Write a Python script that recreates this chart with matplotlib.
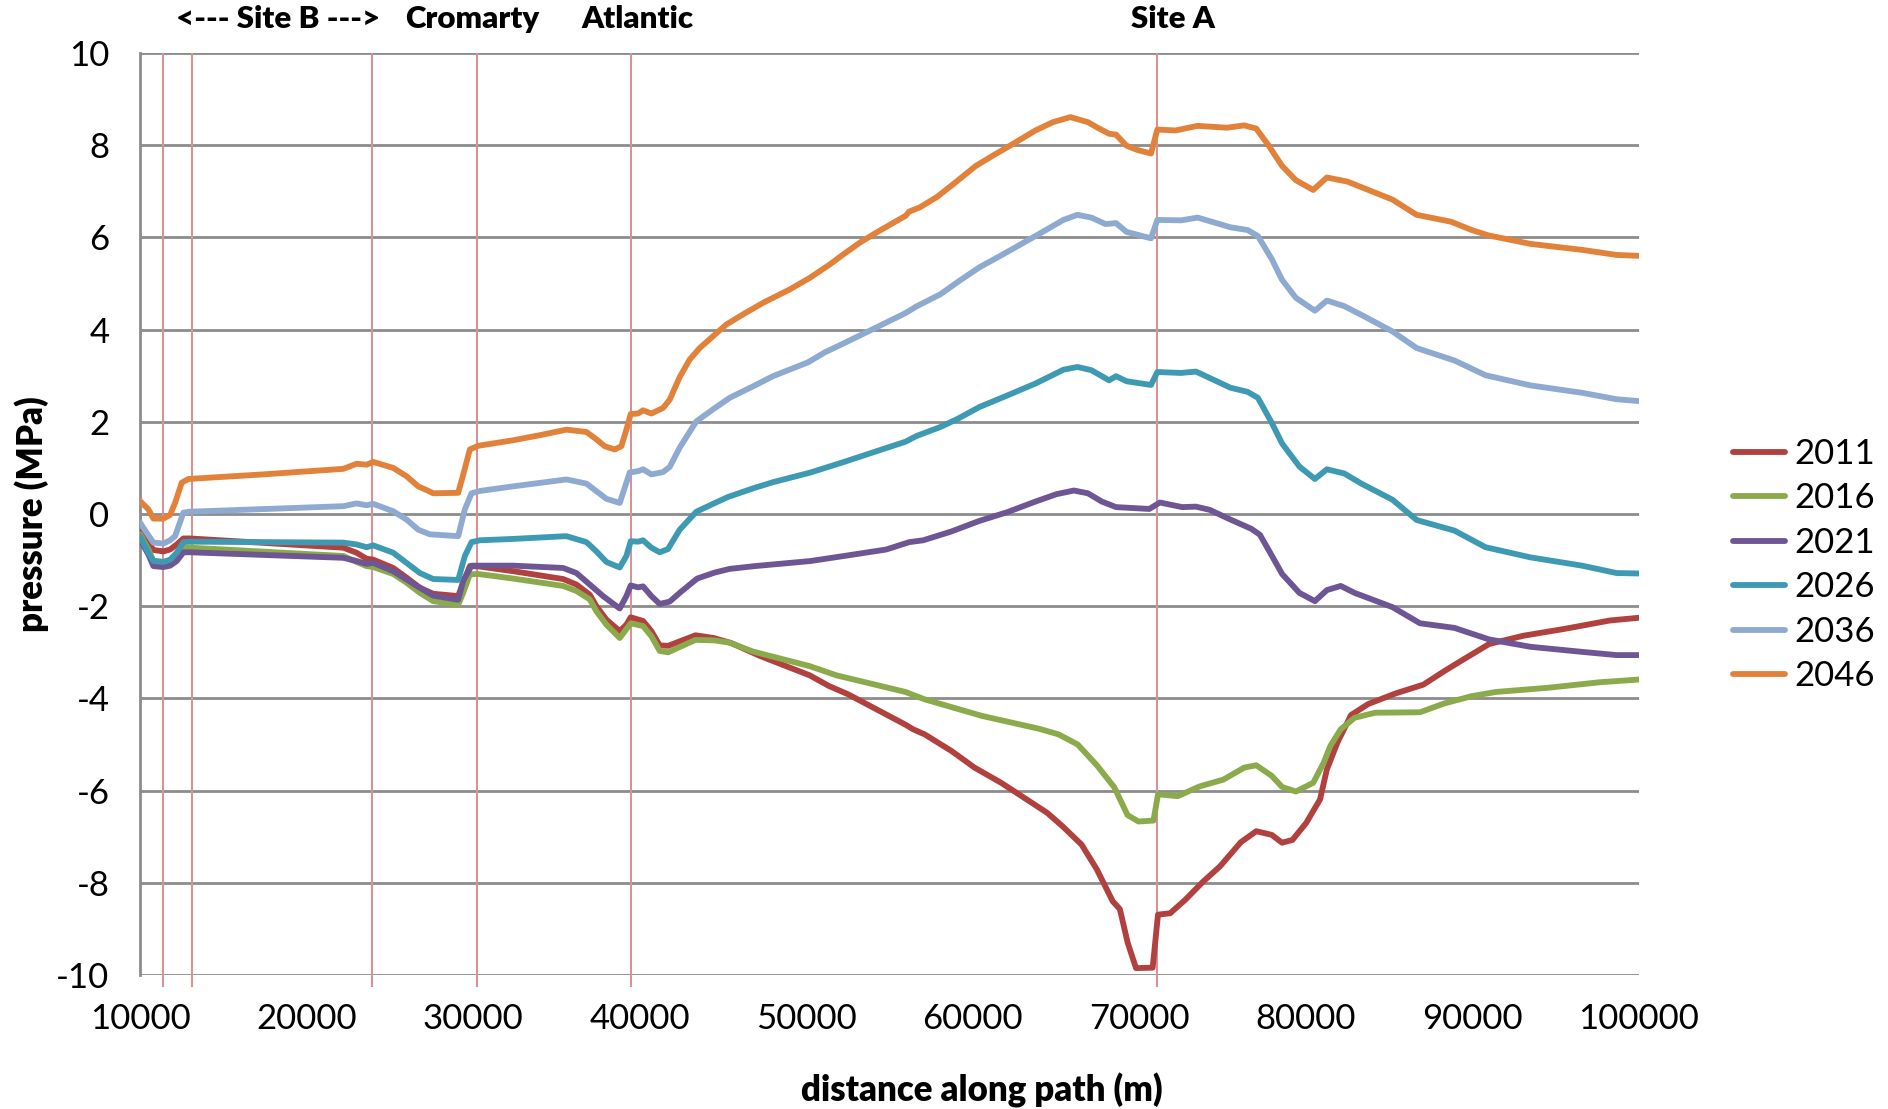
import numpy as np
import matplotlib
matplotlib.use("Agg")
import matplotlib.pyplot as plt

plt.rcParams['font.family'] = ['Lato', 'DejaVu Sans']
plt.rcParams['axes.unicode_minus'] = False

# pressure along the path, per year (distance in m, pressure in MPa)
x_2011 = [10000, 10500, 10800, 11400, 11800, 12200, 12600, 13000, 22200, 23000, 23600, 24000,
          25200, 26000, 26800, 27600, 29100, 29400, 29800, 30400, 32400, 35400, 36200, 37000,
          37400, 38000, 38800, 39200, 39460, 40200, 40700, 41200, 41700, 43350, 44450, 45500,
          47230, 50210, 51360, 52510, 53660, 55960, 56420, 57110, 58720, 60100, 61700, 62850,
          64460, 65380, 66530, 67450, 68400, 68830, 69300, 69800, 70800, 71120, 71850, 72780,
          73810, 74850, 76090, 77020, 77950, 78570, 79190, 80020, 80850, 81260, 81890, 82710,
          83750, 85400, 87060, 88300, 89340, 91000, 93060, 95550, 98240, 100000]
p_2011 = [-0.37, -0.62, -0.78, -0.81, -0.77, -0.66, -0.53, -0.53, -0.73, -0.84, -0.97, -0.99,
          -1.17, -1.38, -1.60, -1.73, -1.78, -1.49, -1.13, -1.14, -1.24, -1.41, -1.53, -1.75,
          -2.00, -2.29, -2.54, -2.40, -2.24, -2.32, -2.54, -2.85, -2.86, -2.63, -2.69, -2.80,
          -3.08, -3.50, -3.73, -3.91, -4.13, -4.57, -4.67, -4.78, -5.14, -5.50, -5.83, -6.10,
          -6.48, -6.77, -7.17, -7.71, -8.40, -8.57, -9.30, -9.85, -9.84, -8.69, -8.66, -8.36,
          -7.98, -7.64, -7.12, -6.88, -6.96, -7.13, -7.07, -6.70, -6.19, -5.54, -4.96, -4.36,
          -4.12, -3.89, -3.70, -3.41, -3.18, -2.82, -2.64, -2.49, -2.31, -2.25]

x_2016 = [10000, 10500, 10800, 11400, 11800, 12200, 12600, 13000, 22200, 23000, 23600, 24000,
          25200, 26000, 26800, 27600, 29100, 29400, 29800, 30300, 32400, 35400, 36200, 37000,
          37400, 38000, 38800, 39460, 40200, 40700, 41200, 41700, 43350, 44450, 45400, 46770,
          50210, 51820, 55960, 57110, 60560, 64000, 65150, 66300, 67450, 68500, 69290, 69950,
          70850, 71120, 72300, 73610, 75050, 76300, 77020, 77950, 78570, 79400, 80440, 81060,
          81470, 82090, 82920, 84160, 86850, 88300, 89960, 91410, 94510, 97620, 100000]
p_2016 = [-0.44, -0.77, -1.02, -1.04, -1.01, -0.91, -0.73, -0.73, -0.91, -1.04, -1.13, -1.15,
          -1.30, -1.49, -1.71, -1.89, -1.97, -1.71, -1.31, -1.30, -1.40, -1.56, -1.67, -1.85,
          -2.11, -2.40, -2.69, -2.37, -2.43, -2.65, -2.97, -3.00, -2.73, -2.74, -2.79, -2.98,
          -3.30, -3.50, -3.86, -4.02, -4.38, -4.66, -4.78, -5.00, -5.45, -5.93, -6.53, -6.67,
          -6.65, -6.08, -6.12, -5.91, -5.76, -5.50, -5.45, -5.68, -5.92, -6.02, -5.83, -5.40,
          -5.03, -4.67, -4.42, -4.31, -4.30, -4.11, -3.95, -3.86, -3.77, -3.65, -3.59]

x_2021 = [10000, 10500, 10800, 11400, 11800, 12200, 12600, 13000, 22200, 23000, 23600, 24000,
          25200, 26000, 26800, 27600, 29100, 29400, 29900, 32400, 35400, 36200, 37000, 37800,
          38800, 39200, 39460, 39900, 40200, 40700, 41200, 41800, 42500, 43450, 44500, 45400,
          46900, 50250, 52450, 54800, 56180, 57020, 58700, 60390, 62070, 63760, 65020, 66070,
          66910, 67750, 68600, 70600, 71230, 72570, 73400, 74230, 75470, 76720, 77240, 77950,
          78570, 79610, 80540, 81260, 82090, 82920, 85200, 86850, 88920, 91000, 93480, 96580,
          98650, 100000]
p_2021 = [-0.55, -0.88, -1.13, -1.15, -1.12, -1.02, -0.83, -0.83, -0.95, -1.02, -1.08, -1.06,
          -1.24, -1.42, -1.60, -1.77, -1.86, -1.45, -1.12, -1.12, -1.17, -1.28, -1.53, -1.78,
          -2.05, -1.78, -1.55, -1.59, -1.57, -1.78, -1.95, -1.90, -1.68, -1.40, -1.27, -1.19,
          -1.13, -1.02, -0.90, -0.77, -0.61, -0.57, -0.38, -0.15, 0.04, 0.27, 0.43, 0.51,
          0.45, 0.27, 0.15, 0.11, 0.25, 0.15, 0.16, 0.09, -0.12, -0.32, -0.45, -0.90,
          -1.30, -1.71, -1.89, -1.65, -1.56, -1.71, -2.02, -2.37, -2.47, -2.72, -2.88, -2.99,
          -3.06, -3.06]

x_2026 = [10000, 10500, 10800, 11400, 11800, 12200, 12600, 13000, 22200, 23000, 23600, 24000,
          25200, 26000, 26800, 27600, 29100, 29500, 29900, 30400, 32400, 35600, 36800, 37400,
          38000, 38800, 39200, 39460, 39900, 40200, 40700, 41200, 41700, 42400, 43400, 44400,
          45300, 46920, 48000, 50250, 52180, 55970, 56600, 58070, 59120, 60390, 61860, 63760,
          65440, 66280, 67120, 68180, 68600, 69230, 70700, 71080, 72500, 73400, 75470, 76500,
          77120, 77950, 78570, 79610, 80540, 81260, 82300, 83330, 85200, 86650, 88920, 90790,
          93480, 96580, 98650, 100000]
p_2026 = [-0.48, -0.84, -1.02, -1.04, -0.99, -0.84, -0.61, -0.60, -0.62, -0.66, -0.72, -0.68,
          -0.84, -1.06, -1.28, -1.41, -1.43, -0.91, -0.61, -0.57, -0.54, -0.48, -0.61, -0.81,
          -1.04, -1.16, -0.91, -0.59, -0.60, -0.57, -0.73, -0.83, -0.76, -0.34, 0.05, 0.22,
          0.37, 0.57, 0.69, 0.90, 1.12, 1.57, 1.69, 1.89, 2.07, 2.32, 2.54, 2.83,
          3.13, 3.19, 3.12, 2.90, 2.99, 2.88, 2.80, 3.08, 3.06, 3.09, 2.74, 2.65,
          2.52, 1.98, 1.53, 1.03, 0.76, 0.97, 0.88, 0.66, 0.31, -0.13, -0.36, -0.72,
          -0.94, -1.12, -1.28, -1.29]

x_2036 = [10000, 10400, 10800, 11400, 11800, 12100, 12600, 13000, 22200, 23000, 23600, 24000,
          25200, 26000, 26700, 27400, 29100, 29500, 29900, 30400, 32400, 35600, 36800, 37600,
          38000, 38800, 39400, 39900, 40200, 40700, 41400, 41800, 42400, 43400, 44400, 45400,
          46920, 48000, 50100, 51130, 52180, 54280, 55970, 56600, 58070, 59120, 60390, 61650,
          63760, 65440, 66280, 67120, 67970, 68600, 69230, 70700, 71080, 72500, 73500, 75470,
          76500, 77120, 77950, 78570, 79400, 80540, 81260, 82300, 83330, 85200, 86650, 88920,
          90790, 93480, 96580, 98650, 100000]
p_2036 = [-0.19, -0.41, -0.62, -0.64, -0.57, -0.48, 0.03, 0.05, 0.17, 0.23, 0.19, 0.22,
          0.06, -0.12, -0.34, -0.44, -0.48, 0.10, 0.45, 0.50, 0.60, 0.75, 0.66, 0.44,
          0.33, 0.24, 0.90, 0.93, 0.97, 0.86, 0.91, 1.02, 1.44, 2.01, 2.27, 2.52,
          2.79, 2.99, 3.29, 3.51, 3.69, 4.06, 4.36, 4.50, 4.77, 5.04, 5.35, 5.60,
          6.03, 6.38, 6.49, 6.43, 6.29, 6.31, 6.12, 5.98, 6.38, 6.37, 6.43, 6.22,
          6.16, 6.03, 5.53, 5.08, 4.69, 4.41, 4.63, 4.51, 4.32, 3.96, 3.60, 3.33,
          3.01, 2.79, 2.63, 2.49, 2.45]

x_2046 = [10000, 10500, 10800, 11400, 11800, 12100, 12500, 12900, 17400, 22200, 23000, 23600,
          24000, 25200, 26000, 26700, 27200, 27600, 29100, 29400, 29800, 30300, 32400, 34000,
          35600, 36800, 37400, 37900, 38500, 38900, 39200, 39460, 39900, 40200, 40700, 41400,
          41800, 42400, 43000, 43600, 44600, 45200, 46200, 47400, 49000, 50200, 51400, 52180,
          53230, 54280, 55970, 56180, 56810, 57860, 58910, 60180, 61230, 62280, 63760, 64810,
          65860, 66910, 67540, 68180, 68600, 69230, 69860, 70700, 71080, 72170, 73500, 75260,
          76300, 77020, 77750, 78570, 79400, 80440, 81260, 82500, 83540, 85200, 86650, 88720,
          89960, 91000, 93480, 96580, 98650, 100000]
p_2046 = [0.28, 0.10, -0.10, -0.10, -0.02, 0.24, 0.68, 0.76, 0.86, 0.98, 1.09, 1.07,
          1.13, 1.00, 0.82, 0.60, 0.52, 0.45, 0.46, 0.85, 1.40, 1.48, 1.60, 1.71,
          1.83, 1.78, 1.62, 1.47, 1.40, 1.47, 1.83, 2.17, 2.18, 2.25, 2.18, 2.30,
          2.48, 2.97, 3.35, 3.60, 3.92, 4.11, 4.33, 4.58, 4.87, 5.12, 5.41, 5.62,
          5.89, 6.12, 6.47, 6.56, 6.65, 6.88, 7.18, 7.55, 7.78, 8.00, 8.32, 8.50,
          8.61, 8.50, 8.37, 8.25, 8.23, 7.99, 7.90, 7.82, 8.34, 8.32, 8.42, 8.38,
          8.43, 8.36, 8.00, 7.55, 7.24, 7.03, 7.30, 7.21, 7.06, 6.82, 6.49, 6.34,
          6.16, 6.04, 5.86, 5.73, 5.62, 5.60]

years = ['2011', '2016', '2021', '2026', '2036', '2046']
colors = ['#B0413E', '#8AAA4B', '#6E5594', '#3E9AB3', '#8FAAD0', '#E2823A']

# reference locations along the path
marker_x = [11360, 13100, 23940, 30250, 39460, 71080]
label_text = ['<--- Site B --->', 'Cromarty', 'Atlantic', 'Site A']
label_x = [18280, 29920, 39880, 72040]

fig = plt.figure(figsize=(18.88, 11.09), dpi=100)
ax = fig.add_axes([0.0742, 0.1208, 0.7939, 0.8314])

series = [(x_2011, p_2011), (x_2016, p_2016), (x_2021, p_2021),
          (x_2026, p_2026), (x_2036, p_2036), (x_2046, p_2046)]
for (xs, ps), yr, c in zip(series, years, colors):
    ax.plot(xs, ps, color=c, lw=4.2, label=yr, zorder=3,
            solid_capstyle='round', solid_joinstyle='round')

for mx in marker_x:
    ax.vlines(mx, -10.25, 10, color='#D49496', lw=1.5, zorder=2, clip_on=False)

ax.set_xlim(10000, 100000)
ax.set_ylim(-10, 10)
ax.set_xticks(np.arange(10000, 100001, 10000))
ax.set_yticks(np.arange(-10, 11, 2))
ax.grid(axis='y', color='#8C8C8C', lw=2, zorder=1)
ax.grid(axis='x', visible=False)
for s in ['top', 'right', 'bottom']:
    ax.spines[s].set_visible(False)
ax.spines['left'].set_color('#8C8C8C')
ax.spines['left'].set_linewidth(2)
ax.tick_params(length=0, labelsize=25)
ax.tick_params(axis='y', pad=22)
ax.tick_params(axis='x', pad=20)

for t, lx in zip(label_text, label_x):
    ax.text(lx, 1.037, t, transform=ax.get_xaxis_transform(), ha='center', va='center',
            fontsize=22.5, fontweight='heavy')

fig.text(0.520, 0.0171, 'distance along path (m)', ha='center', va='center',
         fontsize=25, fontweight='heavy')
fig.text(0.017, 0.5365, 'pressure (MPa)', ha='center', va='center', rotation=90,
         fontsize=25, fontweight='heavy')

fig.legend(loc='center left', bbox_to_anchor=(0.918, 0.4905), frameon=False, fontsize=25,
           handlelength=1.5, handletextpad=0.25, labelspacing=0.36, borderpad=0, borderaxespad=0)

fig.savefig('out.png', dpi=100)
